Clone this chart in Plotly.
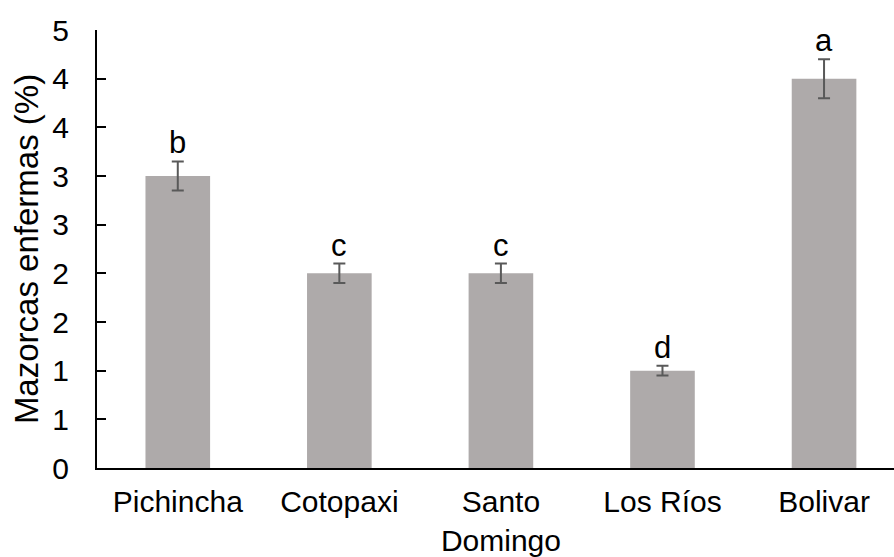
import plotly.graph_objects as go

categories = ["Pichincha", "Cotopaxi", "Santo<br>Domingo", "Los Ríos", "Bolivar"]
values = [3.0, 2.0, 2.0, 1.0, 4.0]
errors = [0.15, 0.1, 0.1, 0.05, 0.2]
letters = ["b", "c", "c", "d", "a"]
tick_vals = [0, 0.5, 1, 1.5, 2, 2.5, 3, 3.5, 4, 4.5]
tick_text = ["0", "1", "1", "2", "2", "3", "3", "4", "4", "5"]

FONT = "Liberation Sans, Arial, sans-serif"

fig = go.Figure()
fig.add_trace(go.Bar(
    x=list(range(len(categories))), y=values,
    marker=dict(color="#AEAAAA", line=dict(width=0)),
    error_y=dict(type="data", array=errors, visible=True,
                 color="#595959", thickness=2, width=6),
    width=0.4,
))

for i, (v, e, l) in enumerate(zip(values, errors, letters)):
    fig.add_annotation(x=i, y=v + e, text=l, showarrow=False,
                       yanchor="bottom", xanchor="center", yshift=-1,
                       font=dict(family=FONT, size=31, color="#000000"))

fig.update_layout(
    width=894, height=557,
    margin=dict(l=97, r=0, t=30, b=89),
    plot_bgcolor="white", paper_bgcolor="white",
    showlegend=False,
    font=dict(family=FONT, size=30, color="#000000"),
)
fig.update_xaxes(
    range=[-0.5, 4.433],
    tickvals=list(range(len(categories))), ticktext=categories,
    showline=True, linecolor="#000000", linewidth=2,
    ticks="", showgrid=False, zeroline=False,
    tickfont=dict(family=FONT, size=30, color="#000000"),
    ticklabelstandoff=6, automargin=False,
)
fig.update_yaxes(
    range=[0, 4.5],
    tickvals=tick_vals, ticktext=tick_text,
    showline=True, linecolor="#000000", linewidth=2,
    ticks="inside", ticklen=9, tickwidth=2, tickcolor="#000000",
    showgrid=False, zeroline=False,
    tickfont=dict(family=FONT, size=30, color="#000000"),
    ticklabelstandoff=20, automargin=False,
    title=dict(text="Mazorcas enfermas (%)", standoff=4,
               font=dict(family=FONT, size=33, color="#000000")),
)

fig.write_html("out.html", config={"displayModeBar": False},
               post_script="document.body.style.margin='0';document.body.style.overflow='hidden';")
